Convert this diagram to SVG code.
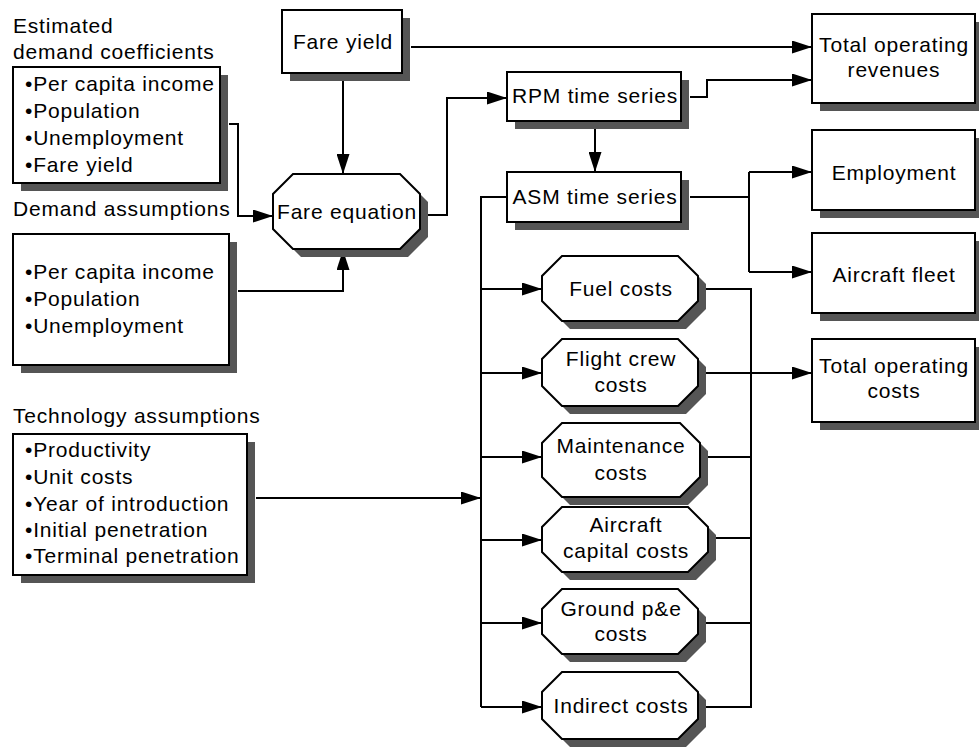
<svg xmlns="http://www.w3.org/2000/svg" width="979" height="747" viewBox="0 0 979 747">
<style>
text{font-family:"Liberation Sans",Arial,Helvetica,sans-serif;font-size:21px;letter-spacing:0.8px;fill:#000}
.c{text-anchor:middle}
.box{fill:#fff;stroke:#000;stroke-width:2}
.sh{fill:#555;stroke:none}
.ln{fill:none;stroke:#000;stroke-width:2}
.ar{fill:none;stroke:#000;stroke-width:2;marker-end:url(#ah)}
</style>
<defs>
<marker id="ah" markerUnits="userSpaceOnUse" markerWidth="20" markerHeight="13" refX="20" refY="6.5" orient="auto">
<path d="M0,0 L20,6.5 L0,13 z" fill="#000"/>
</marker>
</defs>
<rect width="979" height="747" fill="#fff"/>

<g id="connectors">
<path class="ar" d="M411,47 H812"/>
<path class="ar" d="M343,81 V174"/>
<path class="ar" d="M229,124 H238 V216 H273"/>
<path class="ar" d="M238,291 H343 V250"/>
<path class="ar" d="M428,215 H447 V98 H507"/>
<path class="ar" d="M690,97 H707 V80 H812"/>
<path class="ar" d="M595,128 V172"/>
<path class="ln" d="M690,197 H749"/>
<path class="ln" d="M749,172 V272"/>
<path class="ar" d="M749,172 H812"/>
<path class="ar" d="M749,272 H812"/>
<path class="ln" d="M507,197 H481 V707"/>
<path class="ar" d="M481,289 H542"/>
<path class="ar" d="M481,373 H542"/>
<path class="ar" d="M481,457 H542"/>
<path class="ar" d="M481,540 H542"/>
<path class="ar" d="M481,623 H542"/>
<path class="ar" d="M481,707 H542"/>
<path class="ar" d="M256,498 H481"/>
<path class="ln" d="M706,289 H751 V707 H706"/>
<path class="ln" d="M708,457 H751"/>
<path class="ln" d="M716,538 H751"/>
<path class="ln" d="M706,623 H751"/>
<path class="ar" d="M706,373 H812"/>
</g>

<g id="demand-coefficients">
<text x="13" y="33">Estimated</text>
<text x="13" y="59">demand coefficients</text>
<rect class="sh" x="21" y="75" width="207" height="116"/>
<rect class="box" x="13" y="67" width="207" height="116"/>
<text x="25" y="91">•Per capita income</text>
<text x="25" y="118">•Population</text>
<text x="25" y="145">•Unemployment</text>
<text x="25" y="172">•Fare yield</text>
</g>

<g id="demand-assumptions">
<text x="13" y="216">Demand assumptions</text>
<rect class="sh" x="21" y="242" width="216" height="131"/>
<rect class="box" x="13" y="234" width="216" height="131"/>
<text x="25" y="279">•Per capita income</text>
<text x="25" y="306">•Population</text>
<text x="25" y="333">•Unemployment</text>
</g>

<g id="technology-assumptions">
<text x="13" y="423">Technology assumptions</text>
<rect class="sh" x="21" y="442" width="234" height="141"/>
<rect class="box" x="13" y="434" width="234" height="141"/>
<text x="25" y="457">•Productivity</text>
<text x="25" y="484">•Unit costs</text>
<text x="25" y="511">•Year of introduction</text>
<text x="25" y="537">•Initial penetration</text>
<text x="25" y="563">•Terminal penetration</text>
</g>

<g id="fare-yield">
<rect class="sh" x="290" y="18" width="120" height="63"/>
<rect class="box" x="282" y="10" width="120" height="63"/>
<text class="c" x="343" y="49">Fare yield</text>
</g>

<g id="fare-equation">
<polygon class="sh" transform="translate(8,8)" points="293,174 400,174 420,194 420,229 400,249 293,249 273,229 273,194"/>
<polygon class="box" points="293,174 400,174 420,194 420,229 400,249 293,249 273,229 273,194"/>
<text class="c" x="347" y="219">Fare equation</text>
</g>

<g id="rpm">
<rect class="sh" x="515" y="80" width="174" height="49"/>
<rect class="box" x="507" y="72" width="174" height="49"/>
<text class="c" x="595" y="103">RPM time series</text>
</g>

<g id="asm">
<rect class="sh" x="515" y="180" width="174" height="50"/>
<rect class="box" x="507" y="172" width="174" height="50"/>
<text class="c" x="595" y="204">ASM time series</text>
</g>

<g id="total-operating-revenues">
<rect class="sh" x="820" y="22" width="163" height="89"/>
<rect class="box" x="812" y="14" width="163" height="89"/>
<text class="c" x="894" y="52">Total operating</text>
<text class="c" x="894" y="77">revenues</text>
</g>

<g id="employment">
<rect class="sh" x="820" y="138" width="163" height="80"/>
<rect class="box" x="812" y="130" width="163" height="80"/>
<text class="c" x="894" y="180">Employment</text>
</g>

<g id="aircraft-fleet">
<rect class="sh" x="820" y="241" width="163" height="80"/>
<rect class="box" x="812" y="233" width="163" height="80"/>
<text class="c" x="894" y="282">Aircraft fleet</text>
</g>

<g id="total-operating-costs">
<rect class="sh" x="820" y="347" width="163" height="83"/>
<rect class="box" x="812" y="339" width="163" height="83"/>
<text class="c" x="894" y="373">Total operating</text>
<text class="c" x="894" y="398">costs</text>
</g>

<g id="fuel-costs">
<polygon class="sh" transform="translate(8,8)" points="562,256 678,256 698,276 698,301 678,321 562,321 542,301 542,276"/>
<polygon class="box" points="562,256 678,256 698,276 698,301 678,321 562,321 542,301 542,276"/>
<text class="c" x="621" y="296">Fuel costs</text>
</g>

<g id="flight-crew-costs">
<polygon class="sh" transform="translate(8,8)" points="562,339 678,339 698,359 698,386 678,406 562,406 542,386 542,359"/>
<polygon class="box" points="562,339 678,339 698,359 698,386 678,406 562,406 542,386 542,359"/>
<text class="c" x="621" y="366">Flight crew</text>
<text class="c" x="621" y="392">costs</text>
</g>

<g id="maintenance-costs">
<polygon class="sh" transform="translate(8,8)" points="562,423 680,423 700,443 700,477 680,497 562,497 542,477 542,443"/>
<polygon class="box" points="562,423 680,423 700,443 700,477 680,497 562,497 542,477 542,443"/>
<text class="c" x="621" y="453">Maintenance</text>
<text class="c" x="621" y="480">costs</text>
</g>

<g id="aircraft-capital-costs">
<polygon class="sh" transform="translate(8,8)" points="562,507 688,507 708,527 708,552 688,572 562,572 542,552 542,527"/>
<polygon class="box" points="562,507 688,507 708,527 708,552 688,572 562,572 542,552 542,527"/>
<text class="c" x="626" y="532">Aircraft</text>
<text class="c" x="626" y="558">capital costs</text>
</g>

<g id="ground-pe-costs">
<polygon class="sh" transform="translate(8,8)" points="562,589 678,589 698,609 698,634 678,654 562,654 542,634 542,609"/>
<polygon class="box" points="562,589 678,589 698,609 698,634 678,654 562,654 542,634 542,609"/>
<text class="c" x="621" y="616">Ground p&amp;e</text>
<text class="c" x="621" y="641">costs</text>
</g>

<g id="indirect-costs">
<polygon class="sh" transform="translate(8,8)" points="562,672 678,672 698,692 698,719 678,739 562,739 542,719 542,692"/>
<polygon class="box" points="562,672 678,672 698,692 698,719 678,739 562,739 542,719 542,692"/>
<text class="c" x="621" y="713">Indirect costs</text>
</g>
</svg>
